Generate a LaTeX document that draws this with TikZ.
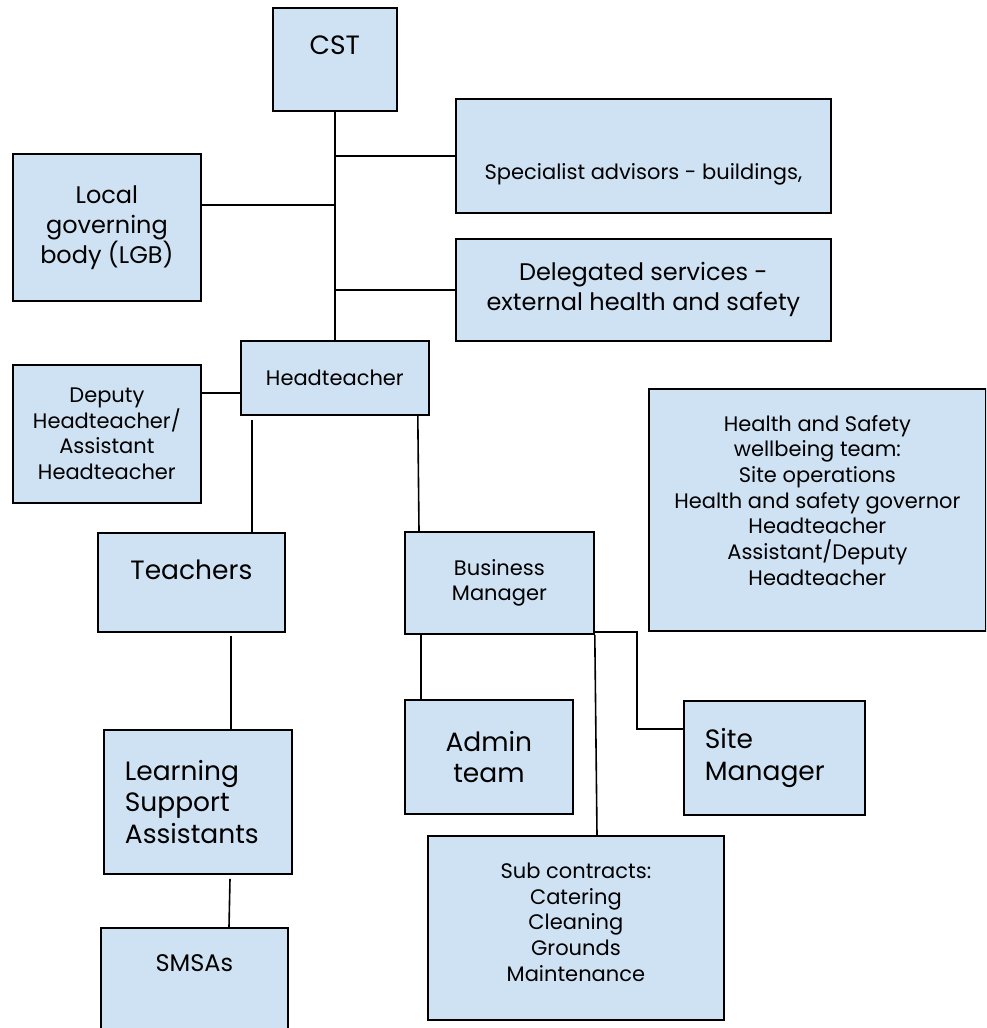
\documentclass[tikz,border=0pt]{standalone}
\usepackage{fontspec}
\setmainfont{Poppins}
\usepackage{xcolor}
\usetikzlibrary{positioning,calc}
\definecolor{boxblue}{HTML}{CFE2F3}
\newcommand{\fsmall}{\fontsize{21}{25.7}\selectfont}
\newcommand{\fmid}{\fontsize{24}{30}\selectfont}
\newcommand{\flarge}{\fontsize{26.5}{31.5}\selectfont}

\begin{document}
\begin{tikzpicture}[x=1pt,y=-1pt,
  orgbox/.style={draw, line width=1.8pt, fill=boxblue, inner sep=0pt, align=center},
  link/.style={line width=1.6pt}]

\clip (0,0) rectangle (986,1028);
\coordinate(O1) at (0,0);

\node[below right=7pt and 272pt of O1, orgbox, minimum width=124pt, text height=46.5pt, text depth=56.5pt, font=\flarge](cst) {CST};
\node[below right=98pt and 455pt of O1, orgbox, minimum width=375pt, text height=80.4pt, text depth=33.6pt, font=\fsmall](spec) {Specialist advisors - buildings,};
\node[below right=238pt and 455pt of O1, orgbox, minimum width=375pt, minimum height=102pt, font=\fmid](deleg) {Delegated services -\\external health and safety};
\node[below right=153pt and 12pt of O1, orgbox, minimum width=188pt, minimum height=147pt, font=\fmid](lgb) {Local\\governing\\body (LGB)};

\node[below right=340pt and 240pt of O1, orgbox, minimum width=188pt, minimum height=74pt, font=\fsmall](head) {Headteacher};
\node[below right=364pt and 12pt of O1, orgbox, minimum width=188pt, minimum height=138pt, font=\fsmall](deputy) {Deputy\\Headteacher/\\Assistant\\Headteacher};
\node[below right=388pt and 648pt of O1, orgbox, minimum width=337pt, text height=196.4pt, text depth=45.6pt, font=\fsmall](health) {Health and Safety\\wellbeing team:\\Site operations\\Health and safety governor\\Headteacher\\Assistant/Deputy\\Headteacher};

\node[below right=532pt and 97pt of O1, orgbox, minimum width=187pt, text height=46.3pt, text depth=52.7pt, font=\flarge](teach) {Teachers};
\node[below right=531pt and 404pt of O1, orgbox, minimum width=189pt, minimum height=102pt, font=\fsmall](bm) {Business\\Manager};

\node[below right=699pt and 404pt of O1, orgbox, minimum width=168pt, minimum height=114pt, font=\flarge](admin) {Admin\\team};
\node[below right=700pt and 683pt of O1, orgbox, minimum width=181pt, minimum height=114pt, align=left, text width=139pt, font=\flarge](site) {Site\\Manager};
\node[below right=729pt and 103pt of O1, orgbox, minimum width=188pt, minimum height=144pt, align=left, text width=146pt, font=\flarge](lsa) {Learning\\Support\\Assistants};
\node[below right=835pt and 427pt of O1, orgbox, minimum width=296pt, text height=145.4pt, text depth=38.6pt, font=\fsmall](sub) {Sub contracts:\\Catering\\Cleaning\\Grounds\\Maintenance};
\node[below right=927pt and 100pt of O1, orgbox, minimum width=187pt, text height=43.6pt, text depth=69.4pt, font=\fmid](smsa) {SMSAs};

% trunk from CST down to the headteacher
\draw[link] (cst.south) -- (head.north);
\draw[link] (cst.south |- spec.west) -- (spec.west);
\coordinate (lgbj) at ($(lgb.east)+(0,-22.5)$);
\draw[link] (lgbj) -- (lgbj -| cst.south);
\draw[link] (cst.south |- deleg.west) -- (deleg.west);

% headteacher branches
\coordinate (depj) at ($(head.west)+(0,15)$);
\draw[link] (depj) -- (depj -| deputy.east);
\coordinate (teachj) at ($(head.south west)+(12,4)$);
\draw[link] (teachj) -- (teachj |- teach.north);
\draw[link] ($(head.south east)+(-12,0)$) -- ($(bm.north west)+(15,0)$);

% business manager branches
\coordinate (adminj) at ($(bm.south west)+(17,0)$);
\draw[link] (adminj) -- (adminj |- admin.north);
\draw[link] ($(bm.south east)+(0,-3)$) -| ($(site.west)+(-46,-29)$) -- ($(site.west)+(0,-29)$);
\draw[link] (bm.south east) -- ($(sub.north west)+(170,0)$);

% teachers down to support staff
\coordinate (lsaj) at ($(teach.south west)+(134,3)$);
\draw[link] (lsaj) -- (lsaj |- lsa.north);
\draw[link] ($(lsa.south west)+(127,4)$) -- ($(smsa.north west)+(129,0)$);
\end{tikzpicture}
\end{document}
